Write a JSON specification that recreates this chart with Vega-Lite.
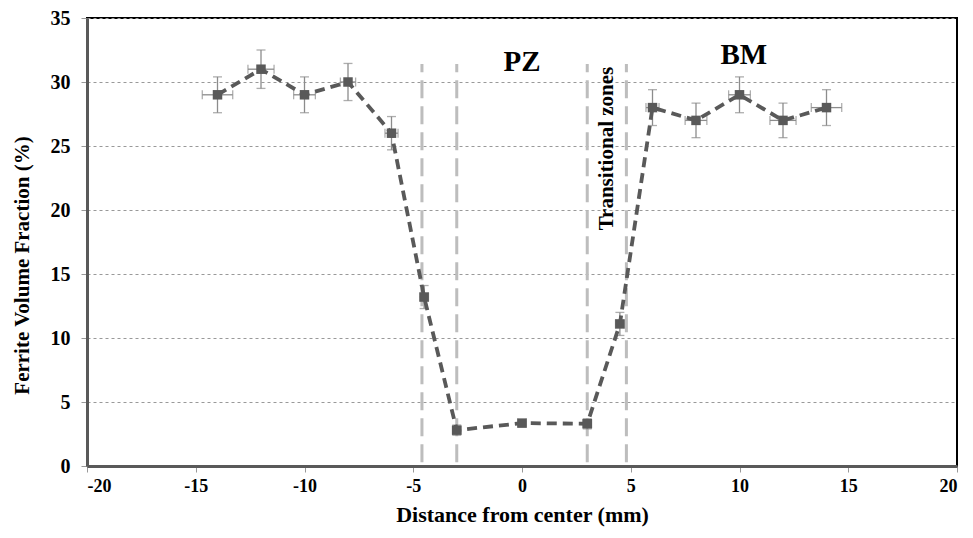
{
  "$schema": "https://vega.github.io/schema/vega-lite/v6.json",
  "width": 870,
  "height": 448,
  "autosize": {"type": "none"},
  "padding": {"left": 87, "top": 18, "right": 16, "bottom": 72},
  "background": "white",
  "view": {"stroke": "black", "strokeWidth": 2},
  "config": {
    "font": "Liberation Serif",
    "axis": {
      "labelFont": "Liberation Serif",
      "labelFontWeight": "bold",
      "labelColor": "black",
      "titleFont": "Liberation Serif",
      "titleFontWeight": "bold",
      "titleColor": "black",
      "domainColor": "#595959",
      "domainWidth": 3,
      "tickColor": "#999999",
      "tickSize": 6
    }
  },
  "datasets": {
    "ferrite": [
      {"x": -14, "y": 29, "ylo": 27.6, "yhi": 30.4, "xlo": -14.7, "xhi": -13.3},
      {"x": -12, "y": 31, "ylo": 29.5, "yhi": 32.5, "xlo": -12.6, "xhi": -11.4},
      {"x": -10, "y": 29, "ylo": 27.6, "yhi": 30.4, "xlo": -10.5, "xhi": -9.5},
      {"x": -8, "y": 30, "ylo": 28.55, "yhi": 31.45, "xlo": -8.35, "xhi": -7.65},
      {"x": -6, "y": 26, "ylo": 24.7, "yhi": 27.3, "xlo": -6.3, "xhi": -5.7},
      {"x": -4.5, "y": 13.2, "ylo": 12.3, "yhi": 14.1, "xlo": -4.7, "xhi": -4.3},
      {"x": -3, "y": 2.8, "ylo": 2.4, "yhi": 3.2, "xlo": -3.2, "xhi": -2.8},
      {"x": 0, "y": 3.35, "ylo": 3.2, "yhi": 3.5, "xlo": -0.2, "xhi": 0.2},
      {"x": 3, "y": 3.3, "ylo": 2.9, "yhi": 3.7, "xlo": 2.8, "xhi": 3.2},
      {"x": 4.5, "y": 11.1, "ylo": 10.2, "yhi": 12.0, "xlo": 4.3, "xhi": 4.7},
      {"x": 6, "y": 28, "ylo": 26.6, "yhi": 29.4, "xlo": 5.7, "xhi": 6.3},
      {"x": 8, "y": 27, "ylo": 25.65, "yhi": 28.35, "xlo": 7.5, "xhi": 8.5},
      {"x": 10, "y": 29, "ylo": 27.6, "yhi": 30.4, "xlo": 9.5, "xhi": 10.5},
      {"x": 12, "y": 27, "ylo": 25.65, "yhi": 28.35, "xlo": 11.4, "xhi": 12.6},
      {"x": 14, "y": 28, "ylo": 26.6, "yhi": 29.4, "xlo": 13.3, "xhi": 14.7}
    ],
    "zones": [
      {"x": -4.6},
      {"x": -3},
      {"x": 3},
      {"x": 4.8}
    ],
    "labels": [
      {"label": "PZ", "lx": 0, "ly": 31.6},
      {"label": "BM", "lx": 10.2, "ly": 32.1}
    ],
    "zoneLabel": [
      {"label": "Transitional zones", "lx": 3.9, "ly": 24.8}
    ]
  },
  "layer": [
    {
      "data": {"name": "ferrite"},
      "mark": {"type": "point", "opacity": 0},
      "encoding": {
        "x": {
          "field": "x", "type": "quantitative",
          "scale": {"domain": [-20, 20], "nice": false, "zero": false},
          "axis": {"values": [-20, -15, -10, -5, 0, 5, 10, 15, 20], "grid": false, "labelPadding": 5, "labelFontSize": 18, "labelExpr": "toString(datum.value)", "title": "Distance from center (mm)", "titleFontSize": 22, "titlePadding": 9}
        },
        "y": {
          "field": "y", "type": "quantitative",
          "scale": {"domain": [0, 35], "nice": false},
          "axis": {"values": [0, 5, 10, 15, 20, 25, 30, 35], "grid": true, "gridColor": "#999999", "gridDash": [3, 3], "gridWidth": 1, "labelPadding": 11, "labelFontSize": 20, "title": "Ferrite Volume Fraction (%)", "titleFontSize": 21, "titlePadding": 18, "titleY": 247}
        }
      }
    },
    {
      "data": {"name": "zones"},
      "mark": {"type": "rule", "color": "#bdbdbd", "strokeWidth": 3, "strokeDash": [18, 8]},
      "encoding": {
        "x": {"field": "x", "type": "quantitative"},
        "y": {"datum": 0.3},
        "y2": {"datum": 31.4}
      }
    },
    {
      "data": {"name": "ferrite"},
      "mark": {"type": "rule", "color": "#8c8c8c", "strokeWidth": 1.3},
      "encoding": {
        "x": {"field": "x", "type": "quantitative"},
        "y": {"field": "ylo", "type": "quantitative"},
        "y2": {"field": "yhi"}
      }
    },
    {
      "data": {"name": "ferrite"},
      "mark": {"type": "rule", "color": "#8c8c8c", "strokeWidth": 1.3},
      "encoding": {
        "x": {"field": "xlo", "type": "quantitative"},
        "x2": {"field": "xhi"},
        "y": {"field": "y", "type": "quantitative"}
      }
    },
    {
      "data": {"name": "ferrite"},
      "mark": {"type": "tick", "orient": "horizontal", "color": "#8c8c8c", "thickness": 1.3, "size": 9},
      "encoding": {
        "x": {"field": "x", "type": "quantitative"},
        "y": {"field": "ylo", "type": "quantitative"}
      }
    },
    {
      "data": {"name": "ferrite"},
      "mark": {"type": "tick", "orient": "horizontal", "color": "#8c8c8c", "thickness": 1.3, "size": 9},
      "encoding": {
        "x": {"field": "x", "type": "quantitative"},
        "y": {"field": "yhi", "type": "quantitative"}
      }
    },
    {
      "data": {"name": "ferrite"},
      "mark": {"type": "tick", "orient": "vertical", "color": "#8c8c8c", "thickness": 1.3, "size": 9},
      "encoding": {
        "x": {"field": "xlo", "type": "quantitative"},
        "y": {"field": "y", "type": "quantitative"}
      }
    },
    {
      "data": {"name": "ferrite"},
      "mark": {"type": "tick", "orient": "vertical", "color": "#8c8c8c", "thickness": 1.3, "size": 9},
      "encoding": {
        "x": {"field": "xhi", "type": "quantitative"},
        "y": {"field": "y", "type": "quantitative"}
      }
    },
    {
      "data": {"name": "ferrite"},
      "mark": {"type": "line", "color": "#595959", "strokeWidth": 3.8, "strokeDash": [10, 6]},
      "encoding": {
        "x": {"field": "x", "type": "quantitative"},
        "y": {"field": "y", "type": "quantitative"}
      }
    },
    {
      "data": {"name": "ferrite"},
      "mark": {"type": "point", "shape": "square", "filled": true, "color": "#595959", "opacity": 1, "size": 90},
      "encoding": {
        "x": {"field": "x", "type": "quantitative"},
        "y": {"field": "y", "type": "quantitative"}
      }
    },
    {
      "data": {"name": "labels"},
      "mark": {"type": "text", "font": "Liberation Serif", "fontWeight": "bold", "fontSize": 29, "color": "black"},
      "encoding": {
        "x": {"field": "lx", "type": "quantitative"},
        "y": {"field": "ly", "type": "quantitative"},
        "text": {"field": "label"}
      }
    },
    {
      "data": {"name": "zoneLabel"},
      "mark": {"type": "text", "font": "Liberation Serif", "fontWeight": "bold", "fontSize": 21, "color": "black", "angle": 270},
      "encoding": {
        "x": {"field": "lx", "type": "quantitative"},
        "y": {"field": "ly", "type": "quantitative"},
        "text": {"field": "label"}
      }
    }
  ]
}
